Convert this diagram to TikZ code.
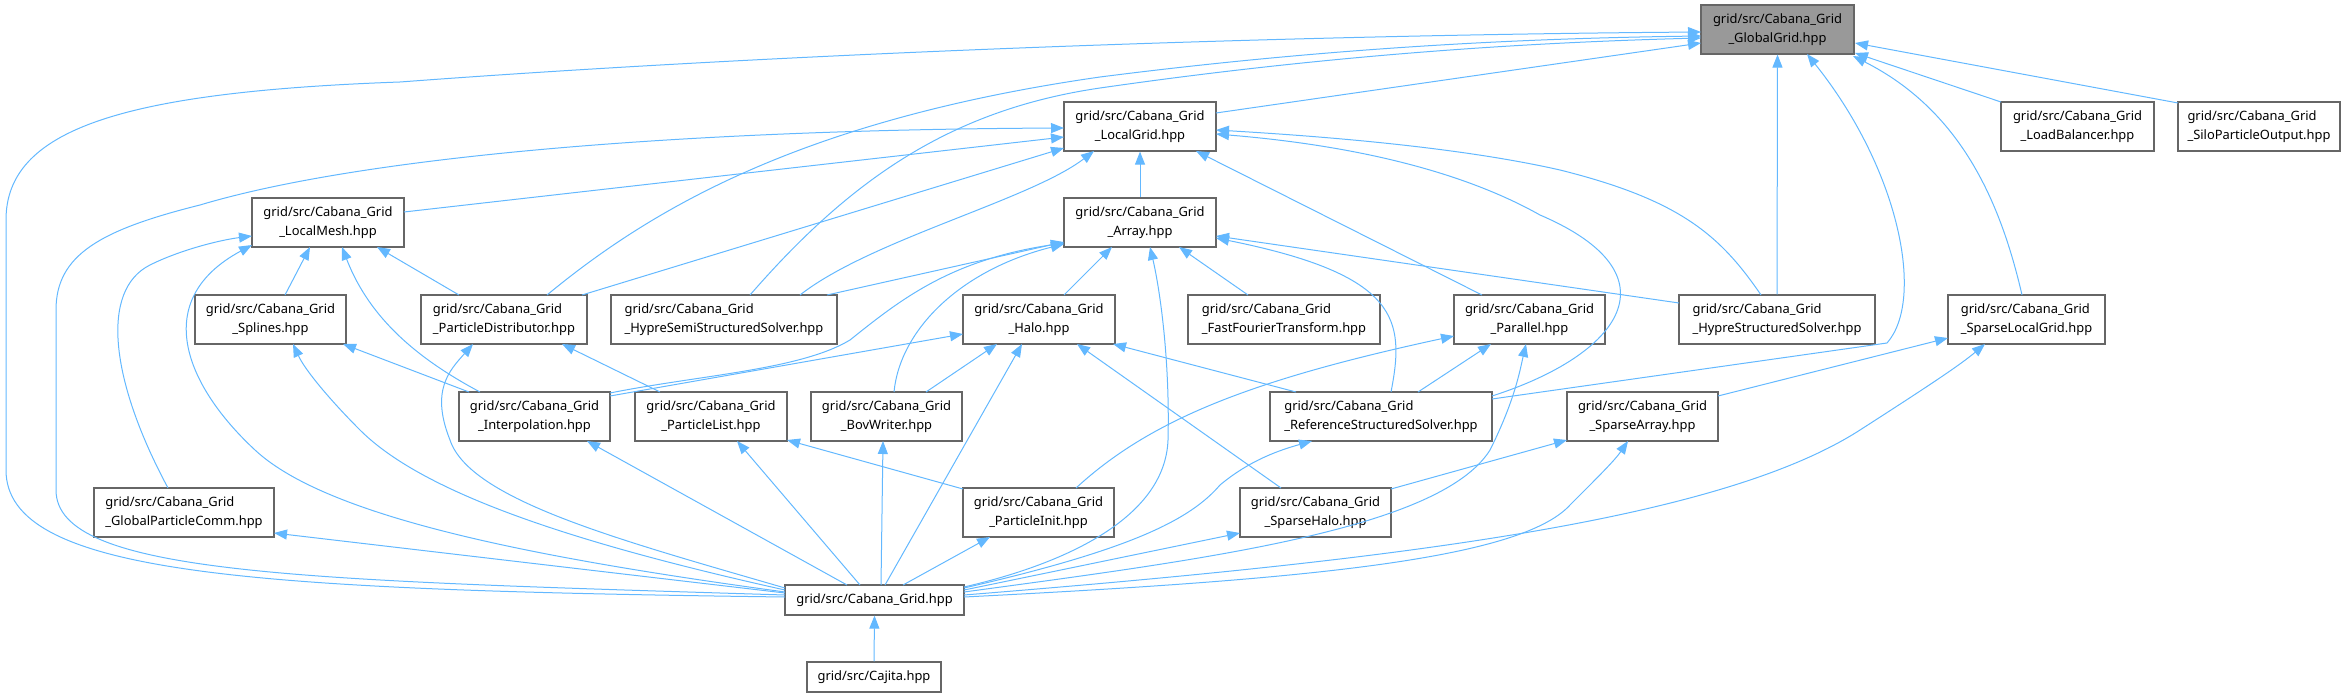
\documentclass[tikz,border=0pt]{standalone}
\usepackage{fontspec}
\setmainfont{Noto Sans}
\usetikzlibrary{arrows.meta,calc}
\definecolor{edgec}{HTML}{63B8FF}
\definecolor{bord}{HTML}{666666}
\definecolor{ggfill}{HTML}{999999}
\tikzset{
  file/.style={draw=bord, line width=1.2bp, fill=white, inner sep=0pt, minimum height=49bp, align=center,
    font=\fontsize{12.9bp}{19.3bp}\selectfont},
  dep/.style={draw=edgec, line width=1bp, -{Triangle[length=13bp,width=10bp]}},
}
\begin{document}
\begin{tikzpicture}[x=1bp,y=-1bp]
\useasboundingbox (0,0) rectangle (2347,698);
% nodes
\node[file, minimum width=153bp, fill=ggfill] (gg) at (1777.5,29.5) {grid/src/Cabana\_Grid\\\_GlobalGrid.hpp};
\node[file, minimum width=153bp] (lb) at (2077.5,126.5) {grid/src/Cabana\_Grid\\\_LoadBalancer.hpp};
\node[file, minimum width=162bp, align=left] (spo) at (2259,126.5) {grid/src/Cabana\_Grid\\\_SiloParticleOutput.hpp};
\node[file, minimum width=152bp] (lg) at (1140,126.5) {grid/src/Cabana\_Grid\\\_LocalGrid.hpp};
\node[file, minimum width=152bp] (arr) at (1140,222.5) {grid/src/Cabana\_Grid\\\_Array.hpp};
\node[file, minimum width=152bp] (lm) at (328,222.5) {grid/src/Cabana\_Grid\\\_LocalMesh.hpp};
\node[file, minimum width=151bp] (spl) at (270.5,319.5) {grid/src/Cabana\_Grid\\\_Splines.hpp};
\node[file, minimum width=166bp, align=left] (pd) at (504,319.5) {grid/src/Cabana\_Grid\\\_ParticleDistributor.hpp};
\node[file, minimum width=226bp, align=left] (hss) at (724,319.5) {grid/src/Cabana\_Grid\\\_HypreSemiStructuredSolver.hpp};
\node[file, minimum width=152bp] (halo) at (1039,319.5) {grid/src/Cabana\_Grid\\\_Halo.hpp};
\node[file, minimum width=192bp, align=left] (fft) at (1284,319.5) {grid/src/Cabana\_Grid\\\_FastFourierTransform.hpp};
\node[file, minimum width=151bp] (par) at (1529.5,319.5) {grid/src/Cabana\_Grid\\\_Parallel.hpp};
\node[file, minimum width=196bp, align=left] (hs) at (1777,319.5) {grid/src/Cabana\_Grid\\\_HypreStructuredSolver.hpp};
\node[file, minimum width=157bp, align=left] (slg) at (2026.5,319.5) {grid/src/Cabana\_Grid\\\_SparseLocalGrid.hpp};
\node[file, minimum width=151bp] (interp) at (534.5,416.5) {grid/src/Cabana\_Grid\\\_Interpolation.hpp};
\node[file, minimum width=152bp] (pl) at (711,416.5) {grid/src/Cabana\_Grid\\\_ParticleList.hpp};
\node[file, minimum width=151bp] (bov) at (886.5,416.5) {grid/src/Cabana\_Grid\\\_BovWriter.hpp};
\node[file, minimum width=222bp, align=left] (rss) at (1381,416.5) {grid/src/Cabana\_Grid\\\_ReferenceStructuredSolver.hpp};
\node[file, minimum width=151bp] (sa) at (1642.5,416.5) {grid/src/Cabana\_Grid\\\_SparseArray.hpp};
\node[file, minimum width=180bp, align=left] (gpc) at (184,512.5) {grid/src/Cabana\_Grid\\\_GlobalParticleComm.hpp};
\node[file, minimum width=151bp] (pi) at (1038.5,512.5) {grid/src/Cabana\_Grid\\\_ParticleInit.hpp};
\node[file, minimum width=151bp] (sh) at (1315.5,512.5) {grid/src/Cabana\_Grid\\\_SparseHalo.hpp};
\node[file, minimum width=179bp, minimum height=30bp] (cg) at (874.5,600) {grid/src/Cabana\_Grid.hpp};
\node[file, minimum width=134bp, minimum height=30bp] (caj) at (874,677) {grid/src/Cajita.hpp};
% edges into GlobalGrid
\draw[dep] ($(lg)+(76,-13.5)$) -- ($(gg)+(-76.5,13.5)$);
\draw[dep] ($(cg)+(-89.5,-3)$) .. controls (250,590) and (6,575) .. (6,470) -- (6,220) .. controls (6,130) and (120,92) .. (400,82) .. controls (800,52) and (1300,35) .. ($(gg)+(-76.5,2.5)$);
\draw[dep] ($(pd)+(43,-24.5)$) .. controls (650,210) and (800,120) .. (1100,77) .. controls (1350,45) and (1550,38) .. ($(gg)+(-76.5,6.5)$);
\draw[dep] ($(hss)+(26,-24.5)$) .. controls (850,180) and (950,110) .. (1100,88) .. controls (1350,52) and (1550,42) .. ($(gg)+(-76.5,8.5)$);
\draw[dep] (hs.north) -- (gg.south);
\draw[dep] ($(rss)+(111,-17.5)$) -- (1887,343) .. controls (1925,300) and (1900,170) .. ($(gg)+(29.5,24.5)$);
\draw[dep] ($(slg)+(-4.5,-24.5)$) .. controls (2000,200) and (1960,110) .. ($(gg)+(75.5,26.5)$);
\draw[dep] ($(lb)+(-76.5,-24.5)$) -- ($(gg)+(77.5,23.5)$);
\draw[dep] ($(spo)+(-81,-23.5)$) -- ($(gg)+(77.5,13.5)$);
% edges into LocalGrid
\draw[dep] (arr.north) -- (lg.south);
\draw[dep] ($(lm)+(76,-10.5)$) -- ($(lg)+(-76,10.5)$);
\draw[dep] ($(cg)+(-89.5,-5)$) .. controls (300,580) and (56,575) .. (56,490) -- (56,310) .. controls (56,255) and (100,230) .. (200,205) .. controls (350,160) and (650,130) .. ($(lg)+(-76,1.5)$);
\draw[dep] ($(pd)+(78,-24.5)$) -- ($(lg)+(-76,21.5)$);
\draw[dep] ($(hss)+(76,-24.5)$) .. controls (870,240) and (1030,200) .. ($(lg)+(-46,24.5)$);
\draw[dep] ($(par)+(-47.5,-24.5)$) -- ($(lg)+(56,24.5)$);
\draw[dep] ($(hs)+(-16,-24.5)$) .. controls (1720,235) and (1680,200) .. (1560,170) .. controls (1450,145) and (1300,135) .. ($(lg)+(76,3.5)$);
\draw[dep] ($(rss)+(111,-20.5)$) .. controls (1620,355) and (1680,275) .. (1540,215) .. controls (1460,170) and (1350,145) .. ($(lg)+(76,7.5)$);
% edges into Array
\draw[dep] ($(halo)+(25,-24.5)$) -- ($(arr)+(-28,24.5)$);
\draw[dep] ($(fft)+(-36,-24.5)$) -- ($(arr)+(39,24.5)$);
\draw[dep] ($(cg)+(89.5,-13)$) .. controls (1060,565) and (1165,520) .. (1168,440) .. controls (1170,360) and (1160,290) .. ($(arr)+(10,24.5)$);
\draw[dep] ($(hss)+(103,-24.5)$) -- ($(arr)+(-76,19.5)$);
\draw[dep] ($(interp)+(75.5,-23.5)$) .. controls (700,375) and (800,370) .. (850,340) .. controls (900,300) and (950,260) .. ($(arr)+(-76,20.5)$);
\draw[dep] ($(bov)+(7.5,-24.5)$) .. controls (900,330) and (960,270) .. ($(arr)+(-76,21.5)$);
\draw[dep] ($(hs)+(-98,-16.5)$) -- ($(arr)+(76,13.5)$);
\draw[dep] ($(rss)+(10,-24.5)$) .. controls (1405,320) and (1400,275) .. ($(arr)+(76,15.5)$);
% edges into LocalMesh
\draw[dep] ($(spl)+(14.5,-24.5)$) -- ($(lm)+(-18,24.5)$);
\draw[dep] ($(pd)+(-45,-24.5)$) -- ($(lm)+(49,24.5)$);
\draw[dep] ($(interp)+(-54.5,-24.5)$) .. controls (420,360) and (370,320) .. ($(lm)+(14,24.5)$);
\draw[dep] ($(gpc)+(-16,-24.5)$) .. controls (110,380) and (100,290) .. (150,265) .. controls (180,250) and (220,240) .. ($(lm)+(-76,13.5)$);
\draw[dep] ($(cg)+(-89.5,-8)$) .. controls (550,560) and (330,520) .. (255,450) .. controls (185,385) and (150,300) .. ($(lm)+(-76,22.5)$);
% edges into Splines, ParticleDistributor
\draw[dep] ($(interp)+(-65.5,-24.5)$) -- ($(spl)+(72.5,24.5)$);
\draw[dep] ($(cg)+(-89.5,-10)$) .. controls (560,540) and (420,490) .. (360,430) .. controls (330,400) and (305,370) .. ($(spl)+(22.5,24.5)$);
\draw[dep] ($(pl)+(-51,-24.5)$) -- ($(pd)+(58,24.5)$);
\draw[dep] ($(cg)+(-89.5,-12)$) .. controls (620,540) and (470,500) .. (450,440) .. controls (430,390) and (450,370) .. ($(pd)+(-31,24.5)$);
% edges into Halo
\draw[dep] ($(bov)+(39.5,-24.5)$) -- ($(halo)+(-42,24.5)$);
\draw[dep] ($(cg)+(10.5,-15)$) -- ($(halo)+(-17,24.5)$);
\draw[dep] ($(rss)+(-85,-24.5)$) -- ($(halo)+(74,24.5)$);
\draw[dep] ($(sh)+(-34.5,-24.5)$) -- ($(halo)+(38,24.5)$);
\draw[dep] ($(interp)+(75.5,-20.5)$) -- ($(halo)+(-76,14.5)$);
% edges into Parallel
\draw[dep] ($(pi)+(37.5,-24.5)$) .. controls (1150,420) and (1250,380) .. ($(par)+(-75.5,16.5)$);
\draw[dep] ($(rss)+(37,-24.5)$) -- ($(par)+(-38.5,24.5)$);
\draw[dep] ($(cg)+(89.5,-8)$) .. controls (1200,560) and (1440,530) .. (1490,450) .. controls (1515,400) and (1520,370) .. ($(par)+(-3.5,24.5)$);
% edges into SparseLocalGrid
\draw[dep] ($(sa)+(75.5,-20.5)$) -- ($(slg)+(-78.5,18.5)$);
\draw[dep] ($(cg)+(89.5,-5)$) .. controls (1400,560) and (1720,520) .. (1860,430) .. controls (1930,385) and (1960,365) .. ($(slg)+(-41.5,24.5)$);
% remaining edges
\draw[dep] ($(cg)+(-27.5,-15)$) -- ($(interp)+(52.5,24.5)$);
\draw[dep] ($(cg)+(-14.5,-15)$) -- ($(pl)+(26,24.5)$);
\draw[dep] ($(pi)+(-75.5,-23.5)$) -- ($(pl)+(76,23.5)$);
\draw[dep] ($(cg)+(6.5,-15)$) -- ($(bov)+(-3.5,24.5)$);
\draw[dep] ($(cg)+(89.5,-12)$) .. controls (1130,550) and (1190,520) .. (1220,485) .. controls (1250,460) and (1280,450) .. ($(rss)+(-69,24.5)$);
\draw[dep] ($(sh)+(75.5,-23.5)$) -- ($(sa)+(-75.5,23.5)$);
\draw[dep] ($(cg)+(89.5,-3)$) .. controls (1300,580) and (1520,560) .. (1570,505) .. controls (1600,475) and (1615,460) .. ($(sa)+(-14.5,24.5)$);
\draw[dep] ($(cg)+(28.5,-15)$) -- ($(pi)+(-48.5,24.5)$);
\draw[dep] ($(cg)+(89.5,-10)$) -- ($(sh)+(-75.5,20.5)$);
\draw[dep] ($(cg)+(-89.5,-7)$) -- ($(gpc)+(90,20.5)$);
\draw[dep] (caj.north) -- (cg.south);
\end{tikzpicture}
\end{document}
